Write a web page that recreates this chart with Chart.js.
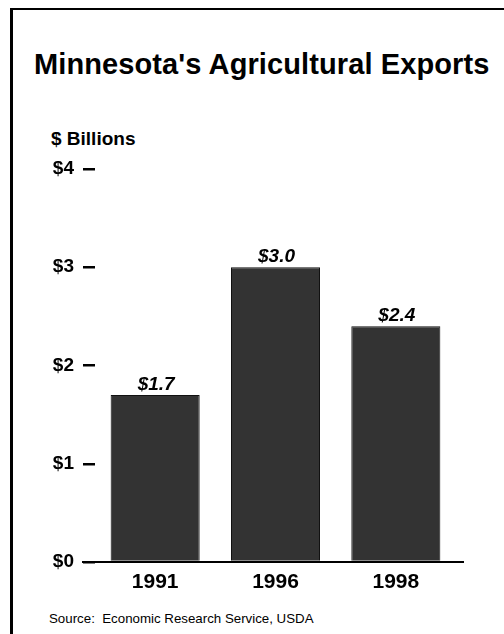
<html>
    <head>
        <script src="https://cdn.jsdelivr.net/npm/chart.js"></script>
        <style>
            body { margin: 0; background: #fff; font-family: "Liberation Sans", Arial, sans-serif; }
            .frame { position: absolute; left: 10px; top: 8px; width: 600px; height: 700px;
                     border-left: 3px solid #000; border-top: 2px solid #000; }
            .txt { position: absolute; line-height: 1; color: #000; white-space: nowrap; }
            .title { left: 34px; top: 50px; font-size: 29px; font-weight: bold; letter-spacing: 0.1px; }
            .units { left: 51px; top: 129px; font-size: 19px; font-weight: bold; }
            .source { left: 49px; top: 612px; font-size: 13.3px; }
            #chartBox { position: absolute; left: 0; top: 0; }
        </style>
    </head>
    <body>
        <div class="frame"></div>
        <div class="txt title">Minnesota's Agricultural Exports</div>
        <div class="txt units">$ Billions</div>
        <div class="txt source">Source:&nbsp; Economic Research Service, USDA</div>
        <div id="chartBox">
            <canvas id="exports" width="504" height="634"></canvas>
        </div>
    </body>
    <script>
        const years = ["1991", "1996", "1998"];
        const exportValues = [1.7, 3.0, 2.4];
        const yTicks = [0, 1, 2, 3, 4];

        Chart.defaults.font.family = '"Liberation Sans", Arial, sans-serif';
        Chart.defaults.color = '#000';

        // value labels over bars + baseline that runs a bit past the plot
        const barLabels = {
            id: 'barLabels',
            afterDatasetsDraw(chart) {
                const ctx = chart.ctx;
                const area = chart.chartArea;
                const y0 = chart.scales.y.getPixelForValue(0);
                ctx.save();
                ctx.strokeStyle = '#000';
                ctx.lineWidth = 2;
                ctx.beginPath();
                ctx.moveTo(area.left - 13, y0);
                ctx.lineTo(area.right + 8, y0);
                ctx.stroke();

                ctx.fillStyle = '#000';
                ctx.font = 'italic bold 19px "Liberation Sans", Arial, sans-serif';
                ctx.textAlign = 'center';
                ctx.textBaseline = 'alphabetic';
                chart.getDatasetMeta(0).data.forEach((bar, i) => {
                    ctx.fillText('$' + exportValues[i].toFixed(1), bar.x + 1, bar.y - 5);
                });
                ctx.restore();
            }
        };

        function exportsChart(){
            const ctx = document.getElementById('exports');
            const data = {
                labels: years,
                datasets: [{
                    data: exportValues,
                    backgroundColor: '#333333',
                    borderColor: '#111',
                    borderWidth: 1,
                    categoryPercentage: 1,
                    barPercentage: 0.74
                }]
            };

            const config = {
                type: 'bar',
                data: data,
                plugins: [barLabels],
                options: {
                    responsive: false,
                    animation: false,
                    layout: {
                        padding: { top: 169, left: 35, right: 48, bottom: 32 }
                    },
                    scales: {
                        x: {
                            grid: { display: false, drawTicks: false },
                            border: { display: false },
                            ticks: {
                                padding: 8,
                                font: { size: 21, weight: 'bold' }
                            },
                            afterFit(scale) { scale.height = 40; }
                        },
                        y: {
                            min: 0,
                            max: 4,
                            afterBuildTicks(scale) {
                                scale.ticks = yTicks.map(v => ({ value: v }));
                            },
                            grid: {
                                drawOnChartArea: false,
                                drawTicks: true,
                                tickLength: 12,
                                color: '#000',
                                lineWidth: 2.5
                            },
                            border: { display: false },
                            ticks: {
                                padding: 9,
                                font: { size: 19, weight: 'bold' },
                                callback: (v) => '$' + v
                            },
                            afterFit(scale) { scale.width = 60; }
                        }
                    },
                    plugins: {
                        legend: { display: false },
                        tooltip: { enabled: false }
                    }
                }
            };

            new Chart(ctx, config);
        }
        exportsChart();
    </script>
</html>
